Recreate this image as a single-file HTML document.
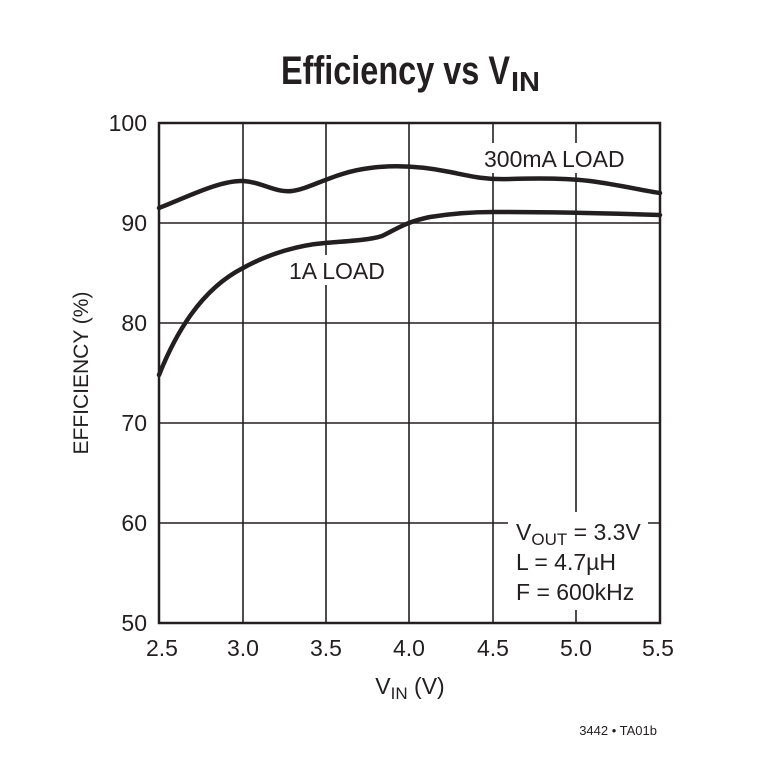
<!DOCTYPE html>
<html><head><style>
body{margin:0;background:#fff;}
svg text{font-family:"Liberation Sans Narrow","Liberation Sans",sans-serif;fill:#231f20;}
</style></head><body>
<svg width="762" height="760" viewBox="0 0 762 760" xmlns="http://www.w3.org/2000/svg">
<text x="281" y="84" font-size="40" font-weight="bold" textLength="229" lengthAdjust="spacingAndGlyphs">Efficiency vs V</text>
<text x="511" y="91" font-size="28" font-weight="bold" textLength="29" lengthAdjust="spacingAndGlyphs">IN</text>
<g stroke="#231f20" stroke-width="1.6" fill="none">
<line x1="243" y1="123" x2="243" y2="623"/><line x1="326" y1="123" x2="326" y2="623"/><line x1="409" y1="123" x2="409" y2="623"/><line x1="493" y1="123" x2="493" y2="623"/><line x1="576" y1="123" x2="576" y2="623"/>
<line x1="159" y1="223" x2="660" y2="223"/><line x1="159" y1="323" x2="660" y2="323"/><line x1="159" y1="423" x2="660" y2="423"/><line x1="159" y1="523" x2="660" y2="523"/>
</g>
<rect x="508" y="512" width="140" height="98" fill="#fff"/>
<rect x="480" y="143" width="150" height="30" fill="#fff"/>
<rect x="284" y="255" width="102" height="30" fill="#fff"/>
<rect x="159" y="123" width="501" height="500" fill="none" stroke="#231f20" stroke-width="2.5"/>
<g stroke="#231f20" stroke-width="4.5" fill="none" stroke-linecap="round">
<path d="M159,208 C185,198 220,180 243,181 C262,182 275,193 292,191 C310,189 335,172 370,168 C400,164 430,168 450,172 C470,176 485,180 510,179 C540,178 565,178 590,181 C620,185 640,190 660,193"/>
<path d="M159,375 C175,335 200,290 243,268 C270,253 300,245 325,243 C350,241 370,240 382,236 C395,230 405,222 430,217 C455,213 475,212 493,212 C540,212 600,213 660,215"/>
</g>
<text x="484" y="167" font-size="23">300mA LOAD</text>
<text x="289" y="279" font-size="23">1A LOAD</text>
<text x="516" y="540" font-size="23">V<tspan font-size="17" dy="5">OUT</tspan><tspan dy="-5"> = 3.3V</tspan></text>
<text x="516" y="570" font-size="23">L = 4.7µH</text>
<text x="516" y="600" font-size="23">F = 600kHz</text>
<g font-size="23" text-anchor="end">
<text x="147" y="131">100</text><text x="147" y="231">90</text><text x="147" y="331">80</text><text x="147" y="431">70</text><text x="147" y="531">60</text><text x="147" y="631">50</text>
</g>
<g font-size="23" text-anchor="middle">
<text x="162" y="656">2.5</text><text x="243" y="656">3.0</text><text x="326" y="656">3.5</text><text x="409" y="656">4.0</text><text x="493" y="656">4.5</text><text x="576" y="656">5.0</text><text x="658" y="656">5.5</text>
</g>
<text x="410" y="694" font-size="23" text-anchor="middle">V<tspan font-size="17" dy="5">IN</tspan><tspan dy="-5"> (V)</tspan></text>
<text transform="translate(88,373) rotate(-90)" font-size="21" text-anchor="middle">EFFICIENCY (%)</text>
<text x="657" y="735" font-size="13" text-anchor="end">3442 • TA01b</text>
</svg>
</body></html>
